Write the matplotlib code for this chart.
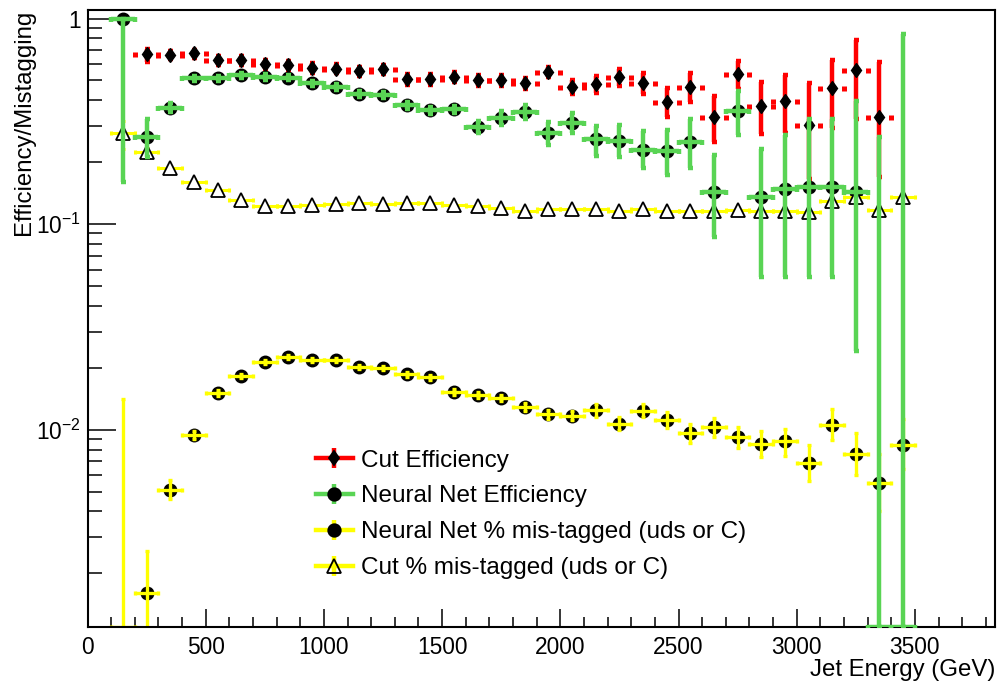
import numpy as np
import matplotlib
matplotlib.use('Agg')
import matplotlib.pyplot as plt
from matplotlib.lines import Line2D
from matplotlib.legend_handler import HandlerTuple
from matplotlib.markers import MarkerStyle
from matplotlib.transforms import Affine2D
from matplotlib.ticker import FixedLocator, MultipleLocator, LogLocator, NullFormatter

plt.rcParams['font.family'] = ['Liberation Sans', 'DejaVu Sans']
plt.rcParams['mathtext.fontset'] = 'custom'
plt.rcParams['mathtext.rm'] = 'Liberation Sans'

# bin centres (GeV), bins are 100 GeV wide
energy = [150, 250, 350, 450, 550, 650, 750, 850, 950, 1050, 1150, 1250,
          1350, 1450, 1550, 1650, 1750, 1850, 1950, 2050, 2150, 2250, 2350,
          2450, 2550, 2650, 2750, 2850, 2950, 3050, 3150, 3250, 3350, 3450]
bin_half = 50

# Cut efficiency (250 - 3350 GeV)
cut_energy = energy[1:33]
cut_eff = [0.671, 0.663, 0.676, 0.627, 0.627, 0.600, 0.593, 0.575, 0.571, 0.554,
           0.566, 0.507, 0.507, 0.520, 0.501, 0.501, 0.486, 0.550, 0.465, 0.479,
           0.520, 0.483, 0.393, 0.462, 0.331, 0.538, 0.376, 0.398, 0.303, 0.457,
           0.564, 0.330]
cut_eff_lo = [0.06, 0.03, 0.03, 0.03, 0.03, 0.03, 0.03, 0.03, 0.03, 0.03,
              0.03, 0.03, 0.03, 0.03, 0.03, 0.03, 0.03, 0.03, 0.035, 0.045,
              0.05, 0.056, 0.062, 0.069, 0.079, 0.085, 0.103, 0.12, 0.138, 0.163,
              0.24, 0.16]
cut_eff_hi = [0.04, 0.03, 0.03, 0.03, 0.03, 0.03, 0.03, 0.03, 0.03, 0.03,
              0.03, 0.03, 0.03, 0.03, 0.03, 0.03, 0.03, 0.03, 0.035, 0.045,
              0.05, 0.063, 0.064, 0.082, 0.091, 0.086, 0.113, 0.135, 0.181, 0.172,
              0.224, 0.283]

# Neural net efficiency
nn_eff = [0.99, 0.266, 0.369, 0.511, 0.511, 0.530, 0.520, 0.516, 0.483, 0.465,
          0.429, 0.424, 0.379, 0.358, 0.362, 0.297, 0.329, 0.352, 0.276, 0.311,
          0.258, 0.253, 0.229, 0.226, 0.251, 0.143, 0.355, 0.136, 0.148, 0.152,
          0.152, 0.144, 0.0, 0.0]
nn_eff_lo = [0.83, 0.054, 0.02, 0.015, 0.015, 0.015, 0.015, 0.015, 0.015, 0.015,
             0.015, 0.015, 0.015, 0.015, 0.015, 0.02, 0.025, 0.028, 0.034, 0.035,
             0.043, 0.042, 0.042, 0.053, 0.064, 0.056, 0.084, 0.081, 0.093, 0.097,
             0.097, 0.12, 0.0, 0.0]
nn_eff_hi = [0.0, 0.057, 0.02, 0.015, 0.015, 0.015, 0.015, 0.015, 0.015, 0.015,
             0.015, 0.015, 0.015, 0.015, 0.015, 0.02, 0.025, 0.028, 0.038, 0.037,
             0.042, 0.05, 0.055, 0.061, 0.075, 0.075, 0.09, 0.095, 0.123, 0.172,
             0.172, 0.254, 0.265, 0.843]

# Neural net mis-tag rate (uds or C)
nn_mis = [0.0, 0.00161, 0.00509, 0.00943, 0.01503, 0.01824, 0.0214, 0.02265,
          0.0218, 0.0218, 0.0202, 0.0200, 0.0186, 0.0180, 0.0152, 0.01475,
          0.01422, 0.01295, 0.01188, 0.0117, 0.01247, 0.01066, 0.01237, 0.0112,
          0.0096, 0.0103, 0.00924, 0.0085, 0.00877, 0.00692, 0.01054, 0.0076,
          0.0055, 0.00844]
nn_mis_lo = [0.0, 0.00161, 0.0005, 0.0004, 0.0005, 0.0005, 0.0005, 0.0005,
             0.0005, 0.0005, 0.0005, 0.0005, 0.0005, 0.0005, 0.0005, 0.0005,
             0.0005, 0.0006, 0.0006, 0.0006, 0.0009, 0.0007, 0.0009, 0.001,
             0.001, 0.0011, 0.0011, 0.0011, 0.0013, 0.0013, 0.0016, 0.0016,
             0.0015, 0.002]
nn_mis_hi = [0.0141, 0.00097, 0.0006, 0.0004, 0.0005, 0.0005, 0.0005, 0.0005,
             0.0005, 0.0005, 0.0005, 0.0005, 0.0005, 0.0005, 0.0005, 0.0005,
             0.0005, 0.0006, 0.0006, 0.0006, 0.0009, 0.0008, 0.0009, 0.001,
             0.001, 0.0011, 0.0011, 0.0013, 0.0013, 0.0015, 0.002, 0.002,
             0.0021, 0.0028]

# Cut mis-tag rate (uds or C)
cut_mis = [0.276, 0.225, 0.187, 0.161, 0.146, 0.131, 0.123, 0.122, 0.124, 0.125,
           0.127, 0.125, 0.126, 0.127, 0.124, 0.122, 0.120, 0.116, 0.119, 0.118,
           0.118, 0.116, 0.118, 0.116, 0.116, 0.116, 0.117, 0.116, 0.116, 0.114,
           0.130, 0.136, 0.117, 0.136]
cut_mis_err = [0.043, 0.01, 0.005, 0.004, 0.003, 0.003, 0.003, 0.003, 0.003, 0.003,
               0.003, 0.003, 0.003, 0.003, 0.003, 0.003, 0.003, 0.003, 0.003, 0.003,
               0.003, 0.003, 0.003, 0.003, 0.003, 0.003, 0.003, 0.003, 0.003, 0.003,
               0.004, 0.004, 0.004, 0.004]

RED = '#ff0000'
GREEN = '#59d454'
YELLOW = '#ffff00'
Y_MIN, Y_MAX = 0.0011, 1.1


def floor_at_axis(y, lo, hi):
    # empty bins are drawn on the bottom of the frame, like ROOT does
    y = np.asarray(y, float)
    lo = np.asarray(lo, float)
    hi = np.asarray(hi, float)
    y_draw = np.where(y > 0, y, Y_MIN)
    lo_draw = np.where(y > 0, lo, 0.0)
    hi_draw = y + hi - y_draw
    return y_draw, lo_draw, np.maximum(hi_draw, 0)


fig = plt.figure(figsize=(9.97, 6.83), dpi=100)
ax = fig.add_axes([87.5 / 997, 1 - 626.7 / 683, (995.3 - 87.5) / 997, (626.7 - 10) / 683])
ax.set_yscale('log')

x = np.array(energy, float)
cx = np.array(cut_energy, float)
diamond = MarkerStyle('d', transform=Affine2D().scale(1.25, 1.0))

# Neural Net % mis-tagged
y, lo, hi = floor_at_axis(nn_mis, nn_mis_lo, nn_mis_hi)
has = np.array(nn_mis) > 0
ax.plot(x[has], y[has], 'o', color='black', ms=9, zorder=2.0)
ax.errorbar(x, y, xerr=bin_half, yerr=[lo, hi], fmt='none', ecolor=YELLOW,
            elinewidth=2.4, capsize=1.6, capthick=2.4, zorder=2.1)

# Cut efficiency: vertical errors solid, horizontal only the end dots
ax.errorbar(cx, cut_eff, xerr=bin_half, fmt='none', ecolor=RED,
            elinewidth=0, capsize=1.8, capthick=3.6, zorder=2.2)
ax.errorbar(cx, cut_eff, yerr=[cut_eff_lo, cut_eff_hi], fmt='none', ecolor=RED,
            elinewidth=3.2, capsize=1.8, capthick=3.2, zorder=2.2)
ax.plot(cx, cut_eff, ls='none', marker=diamond, color='black', ms=7.2, zorder=2.3)

# Neural Net efficiency markers
y, lo, hi = floor_at_axis(nn_eff, nn_eff_lo, nn_eff_hi)
has = np.array(nn_eff) > 0
ax.plot(x[has], y[has], 'o', color='black', ms=9, zorder=2.4)

# Cut % mis-tagged
ax.errorbar(x, cut_mis, xerr=bin_half, yerr=cut_mis_err, fmt='none', ecolor=YELLOW,
            elinewidth=2.2, capsize=1.6, capthick=2.2, zorder=2.45)
ax.plot(x, cut_mis, '^', mfc='white', mec='black', mew=1.3, ms=10, zorder=2.5)

# Neural Net efficiency error bars on top
ax.errorbar(x, y, xerr=bin_half, yerr=[lo, hi], fmt='none', ecolor=GREEN,
            elinewidth=3.2, capsize=1.8, capthick=3.2, zorder=2.7)

ax.set_xlim(0, 3840)
ax.set_ylim(Y_MIN, Y_MAX)

# ROOT style frame and ticks
for s in ax.spines.values():
    s.set_linewidth(1.5)
ax.xaxis.set_major_locator(MultipleLocator(500))
ax.xaxis.set_minor_locator(MultipleLocator(100))
ax.yaxis.set_major_locator(FixedLocator([0.01, 0.1, 1]))
ax.yaxis.set_major_formatter(plt.FixedFormatter([r'$\mathregular{10^{-2}}$',
                                                 r'$\mathregular{10^{-1}}$', '1']))
ax.yaxis.set_minor_locator(LogLocator(base=10, subs=np.arange(2, 10)))
ax.yaxis.set_minor_formatter(NullFormatter())
ax.tick_params(axis='x', which='major', direction='in', length=13, width=1.1,
               labelsize=16.4, pad=6.5, top=False)
ax.tick_params(axis='x', which='minor', direction='in', length=7, width=1.1, top=False)
ax.tick_params(axis='y', which='major', direction='in', length=20, width=1.1,
               labelsize=16.4, pad=4.5, right=False)
ax.tick_params(axis='y', which='minor', direction='in', length=10, width=1.1, right=False)

ax.set_xlabel('Jet Energy (GeV)', fontsize=17.3, loc='right')
ax.xaxis.set_label_coords(1.0, -0.053)
ax.set_ylabel('Efficiency/Mistagging', fontsize=17.3, loc='top')
ax.yaxis.set_label_coords(-0.058, 1.0)

# legend
def entry(color, marker, ms, mfc):
    return (Line2D([], [], color=color, lw=3.2),
            Line2D([], [], ls='none', marker='|', ms=15, mew=3.2, color=color),
            Line2D([], [], ls='none', marker=marker, ms=ms, mfc=mfc, mec='black', mew=1.3))

handles = [entry(RED, diamond, 7.2, 'black'),
           entry(GREEN, 'o', 9, 'black'),
           entry(YELLOW, 'o', 9, 'black'),
           entry(YELLOW, '^', 10, 'none')]
labels = ['Cut Efficiency', 'Neural Net Efficiency',
          'Neural Net % mis-tagged (uds or C)', 'Cut % mis-tagged (uds or C)']
ax.legend(handles, labels, handler_map={tuple: HandlerTuple(ndivide=1)},
          loc='upper left', bbox_to_anchor=(316 / 997, 1 - 449.5 / 683),
          bbox_transform=fig.transFigure, frameon=False, fontsize=17.5,
          handlelength=1.52, handletextpad=0.32, labelspacing=0.57,
          borderpad=0, borderaxespad=0)

fig.savefig('out.png', dpi=100)
